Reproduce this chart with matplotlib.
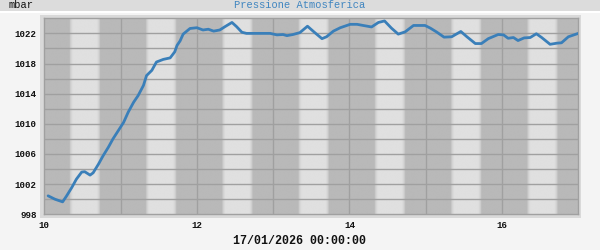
import numpy as np
import matplotlib
matplotlib.use("Agg")
import matplotlib.pyplot as plt
from matplotlib.patches import Rectangle

# ---- data (day of month as fractional days, pressure in mbar) ----
days = [10.05, 10.14, 10.24, 10.29, 10.36, 10.42, 10.49, 10.53, 10.60, 10.64,
        10.71, 10.77, 10.84, 10.90, 10.97, 11.04, 11.10, 11.17, 11.23, 11.30,
        11.34, 11.41, 11.47, 11.56, 11.65, 11.71, 11.74, 11.78, 11.82, 11.91,
        12.00, 12.08, 12.15, 12.22, 12.30, 12.37, 12.46, 12.52, 12.59, 12.65,
        12.78, 12.96, 13.05, 13.13, 13.18, 13.26, 13.35, 13.45, 13.54, 13.64,
        13.70, 13.79, 13.88, 14.01, 14.10, 14.18, 14.29, 14.38, 14.46, 14.55,
        14.64, 14.73, 14.84, 14.99, 15.06, 15.14, 15.24, 15.34, 15.46, 15.54,
        15.65, 15.73, 15.82, 15.95, 16.02, 16.08, 16.15, 16.21, 16.29, 16.37,
        16.45, 16.52, 16.63, 16.72, 16.78, 16.87, 17.00]
pressure = [1000.45, 1000.0, 999.65, 1000.4, 1001.55, 1002.65, 1003.6, 1003.65, 1003.2, 1003.5,
            1004.65, 1005.75, 1006.9, 1008.0, 1009.1, 1010.2, 1011.55, 1012.85, 1013.75, 1015.1,
            1016.4, 1017.1, 1018.2, 1018.55, 1018.75, 1019.55, 1020.4, 1021.0, 1021.9, 1022.65,
            1022.75, 1022.45, 1022.55, 1022.3, 1022.45, 1022.9, 1023.45, 1022.9, 1022.15, 1022.0,
            1022.0, 1022.0, 1021.8, 1021.85, 1021.7, 1021.85, 1022.1, 1022.95, 1022.15, 1021.3,
            1021.55, 1022.3, 1022.75, 1023.2, 1023.2, 1023.05, 1022.85, 1023.45, 1023.65, 1022.7,
            1021.9, 1022.2, 1023.05, 1023.05, 1022.7, 1022.2, 1021.5, 1021.55, 1022.25, 1021.55,
            1020.65, 1020.65, 1021.3, 1021.85, 1021.8, 1021.35, 1021.45, 1021.05, 1021.4, 1021.45,
            1021.95, 1021.45, 1020.55, 1020.7, 1020.75, 1021.55, 1022.0]

x_ticks = [10, 12, 14, 16]
x_tick_labels = ["10", "12", "14", "16"]
y_ticks = [998, 1002, 1006, 1010, 1014, 1018, 1022]
y_tick_labels = ["998", "1002", "1006", "1010", "1014", "1018", "1022"]
sunrise_frac = 0.335   # fraction of day
sunset_frac = 0.735
title = "Pressione Atmosferica"
unit = "mbar"
date_label = "17/01/2026 00:00:00"

# ---- figure ----
W, H = 600, 250
fig = plt.figure(figsize=(6, 2.5), dpi=100, facecolor="#f4f4f4")

# top band
fig.patches.append(Rectangle((0, 1 - 11.5 / H), 1, 11.5 / H, transform=fig.transFigure,
                             facecolor="#dcdcdc", edgecolor="none", zorder=-5))
fig.patches.append(Rectangle((0, 1 - 13 / H), 1, 1.5 / H, transform=fig.transFigure,
                             facecolor="#ffffff", edgecolor="none", zorder=-5))

# axes placement (pixels)
L, R, T, B = 44.3, 578.3, 18.3, 214.3
ax_rect = [L / W, 1 - B / H, (R - L) / W, (B - T) / H]
# frame border around axes
fig.patches.append(Rectangle(((L - 4.3) / W, 1 - (B + 3.5) / H), (R - L + 7) / W, (B - T + 6.8) / H,
                             transform=fig.transFigure, facecolor="#d9d9d9", edgecolor="none", zorder=-5))

ax = fig.add_axes(ax_rect)
ax.set_zorder(5)
xmin, xmax, ymin, ymax = 10, 17, 998, 1024
ax.set_xlim(xmin, xmax)
ax.set_ylim(ymin, ymax)

# day/night background
t = np.linspace(xmin, xmax, 3000)
frac = t - np.floor(t)
ramp = 0.045
up = np.clip((frac - sunrise_frac) / ramp, 0, 1)
down = np.clip((sunset_frac - frac) / ramp, 0, 1)
b = np.minimum(up, down)
b = np.where((frac > sunrise_frac) & (frac < sunset_frac), b, 0)
dark, light = 185 / 255, 224 / 255
vals = dark + (light - dark) * np.sqrt(b)
ax.imshow(vals[np.newaxis, :], cmap="gray", vmin=0, vmax=1, aspect="auto",
          extent=[xmin, xmax, ymin, ymax], interpolation="bilinear", zorder=0)

# grid
grid_c = "#a0a0a0"
for d in range(xmin + 1, xmax):
    ax.axvline(d, color=grid_c, lw=1.0, zorder=1)
for v in range(ymin + 2, ymax, 2):
    ax.axhline(v, color=grid_c, lw=1.0, zorder=1)
for s in ax.spines.values():
    s.set_color(grid_c)
    s.set_linewidth(1.0)

ax.plot(days, pressure, color="#3a7fb9", lw=2.0, solid_capstyle="round", zorder=3)

tick_font = dict(family="Liberation Mono", size=6.6, weight="bold")
ax.set_xticks(x_ticks)
ax.set_xticklabels(x_tick_labels, **tick_font)
ax.set_yticks(y_ticks)
ax.set_yticklabels(y_tick_labels, **tick_font)
ax.tick_params(length=0, colors="#111111")
ax.tick_params(axis="y", pad=5.5)
ax.tick_params(axis="x", pad=5)

fig.text(9 / W, 1 - 5.5 / H, unit, family="Liberation Mono", size=7.5, color="#111111",
         ha="left", va="center")
fig.text(299.5 / W, 1 - 5.5 / H, title, family="Liberation Mono", size=7.5, color="#3f85c0",
         ha="center", va="center")
fig.text(299.5 / W, 1 - 241 / H, date_label, family="Liberation Mono", size=8.4, color="#111111",
         ha="center", va="center", weight="bold")

fig.savefig("out.png", dpi=100, facecolor=fig.get_facecolor())
